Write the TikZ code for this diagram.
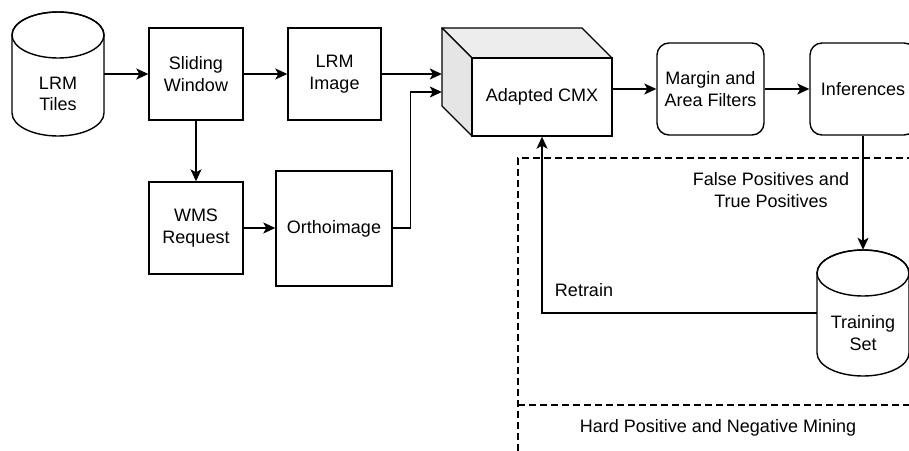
\documentclass[tikz,border=0pt]{standalone}
\usepackage{fontspec}
\setmainfont{Liberation Sans}
\usetikzlibrary{arrows.meta,calc}
\begin{document}
\begin{tikzpicture}[x=1pt,y=1pt,
  every node/.style={font=\fontsize{18}{21.7}\selectfont, inner sep=0pt, align=center},
  box/.style={draw, line width=1.4pt, fill=white},
  rbox/.style={box, rounded corners=12pt},
  ghost/.style={draw=none},
  edge/.style={line width=1.4pt, -{Stealth[length=12pt,width=11pt,inset=3pt]}},
  plain/.style={line width=1.4pt},
  dashline/.style={line width=1.4pt, dash pattern=on 7pt off 4pt}]
\useasboundingbox (0,0) rectangle (909,-450);

% dashed container
\draw[dashline] (925,-158) -- (518,-158) -- (518,-465);
\draw[dashline] (518,-405) -- (925,-405);

% LRM Tiles cylinder
\node[ghost, minimum width=92pt, minimum height=124pt] (tiles) at (58,-74) {};
\draw[plain, fill=white] (12,-35) -- (12,-113) arc[start angle=180,end angle=360,x radius=46,y radius=23] -- (104,-35) arc[start angle=0,end angle=180,x radius=46,y radius=23] -- cycle;
\draw[plain] (58,-35) ellipse[x radius=46,y radius=23];
\node (tileslbl) at (58,-94) {LRM\\Tiles};

% boxes
\node[box, minimum width=94pt, minimum height=92pt] (sw) at (196,-74) {Sliding\\Window};
\node[box, minimum width=93pt, minimum height=92pt] (img) at (334.5,-74) {LRM\\Image};
\node[box, minimum width=94pt, minimum height=92pt] (wms) at (196,-228) {WMS\\Request};
\node[box, minimum width=116pt, minimum height=115pt] (ortho) at (334,-228.5) {Orthoimage};

% cube
\node[ghost, minimum width=170pt, minimum height=108pt] (cmxback) at (527,-82) {};
\draw[plain, fill=gray!14, line join=round] (442,-28) -- (582,-28) -- (612,-58) -- (472,-58) -- cycle;
\draw[plain, fill=gray!20, line join=round] (442,-28) -- (472,-58) -- (472,-136) -- (442,-106) -- cycle;
\node[box, minimum width=140pt, minimum height=78pt] (cmx) at (542,-97) {Adapted CMX};

\node[rbox, minimum width=107pt, minimum height=92pt] (margin) at (710.5,-89) {Margin and\\Area Filters};
\node[rbox, minimum width=106pt, minimum height=92pt, text width=106pt] (inf) at (863,-89) {Inferences};

% Training Set cylinder
\node[ghost, minimum width=92pt, minimum height=126pt] (tset) at (863,-313) {};
\draw[plain, fill=white] (817,-273) -- (817,-353) arc[start angle=180,end angle=360,x radius=46,y radius=23] -- (909,-273) arc[start angle=0,end angle=180,x radius=46,y radius=23] -- cycle;
\draw[plain] (863,-273) ellipse[x radius=46,y radius=23];
\node (tsetlbl) at (863,-333) {Training\\Set};

% connectors
\draw[edge] (tiles.east) -- (sw.west |- tiles.east);
\draw[edge] (sw.east) -- (img.west);
\draw[edge] (img.east) -- (cmxback.west |- img.east);
\draw[edge] (sw.south) -- (sw.south |- wms.north);
\draw[edge] (wms.east) -- (ortho.west |- wms.east);
\draw[edge] (ortho.east |- wms.east) -- ++(18,0) |- ($(cmxback.west)+(0,-10)$);
\draw[edge] (cmx.east |- margin.west) -- (margin.west);
\draw[edge] (margin.east) -- (inf.west);
\draw[edge] (inf.south) -- (inf.south |- tset.north);
\draw[edge] (tset.west) -| (cmx.south);

% labels
\node (fp) at (771,-190) {False Positives and\\True Positives};
\node (retrain) at (584,-290) {Retrain};
\node (mining) at (718,-428) {Hard Positive and Negative Mining};
\end{tikzpicture}
\end{document}
